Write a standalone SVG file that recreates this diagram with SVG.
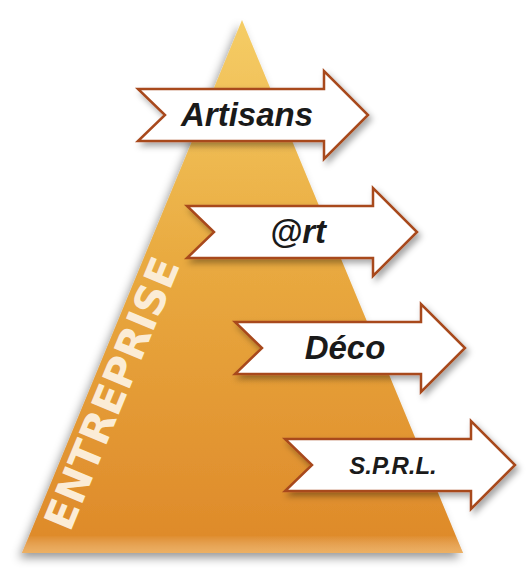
<svg xmlns="http://www.w3.org/2000/svg" width="528" height="579" viewBox="0 0 528 579">
  <defs>
    <linearGradient id="triGrad" x1="0" y1="20" x2="0" y2="553" gradientUnits="userSpaceOnUse">
      <stop offset="0" stop-color="#f5cd66"/>
      <stop offset="0.45" stop-color="#e9aa40"/>
      <stop offset="1" stop-color="#de8929"/>
    </linearGradient>
    <linearGradient id="baseGlow" x1="0" y1="535" x2="0" y2="553" gradientUnits="userSpaceOnUse">
      <stop offset="0" stop-color="#ffffff" stop-opacity="0"/>
      <stop offset="1" stop-color="#ffe0a8" stop-opacity="0.45"/>
    </linearGradient>
    <filter id="triShadow" x="-20%" y="-10%" width="140%" height="130%">
      <feDropShadow dx="-3" dy="5" stdDeviation="5" flood-color="#000" flood-opacity="0.4"/>
    </filter>
    <filter id="arrowShadow" x="-20%" y="-30%" width="140%" height="160%">
      <feDropShadow dx="3" dy="4" stdDeviation="3" flood-color="#000" flood-opacity="0.35"/>
    </filter>
    <path id="arrowShape" d="M0,-26 L186,-26 L186,-44 L230,0 L186,44 L186,26 L0,26 L27,0 Z"/>
  </defs>
  <style>
    .arrow { fill: #ffffff; stroke: #a84a1f; stroke-width: 2.5; stroke-linejoin: miter; }
    .label { font-family: "Liberation Sans", Arial, sans-serif; font-style: italic; font-weight: bold; fill: #1a1a1a; text-anchor: middle; }
    .side { font-family: "DejaVu Sans", "Open Sans", sans-serif; font-weight: bold; fill: #fbecd6; font-size: 41px; }
  </style>

  <g id="pyramid">
    <polygon points="242,20 463,553 22,553" fill="url(#triGrad)" filter="url(#triShadow)"/>
    <polygon points="29,536 456,536 463,553 22,553" fill="url(#baseGlow)"/>
    <text class="side" transform="translate(70,533) rotate(-67.6)" textLength="290" lengthAdjust="spacingAndGlyphs">ENTREPRISE</text>
  </g>

  <g id="connectors"></g>

  <g id="node-artisans" transform="translate(138,115)">
    <use href="#arrowShape" class="arrow" filter="url(#arrowShadow)"/>
    <text class="label" x="109" y="11" font-size="33">Artisans</text>
  </g>
  <g id="node-art" transform="translate(187,232)">
    <use href="#arrowShape" class="arrow" filter="url(#arrowShadow)"/>
    <text class="label" x="111" y="11" font-size="33">@rt</text>
  </g>
  <g id="node-deco" transform="translate(235,348)">
    <use href="#arrowShape" class="arrow" filter="url(#arrowShadow)"/>
    <text class="label" x="110" y="11" font-size="33">Déco</text>
  </g>
  <g id="node-sprl" transform="translate(285,465)">
    <use href="#arrowShape" class="arrow" filter="url(#arrowShadow)"/>
    <text class="label" x="108" y="9" font-size="24">S.P.R.L.</text>
  </g>
</svg>
